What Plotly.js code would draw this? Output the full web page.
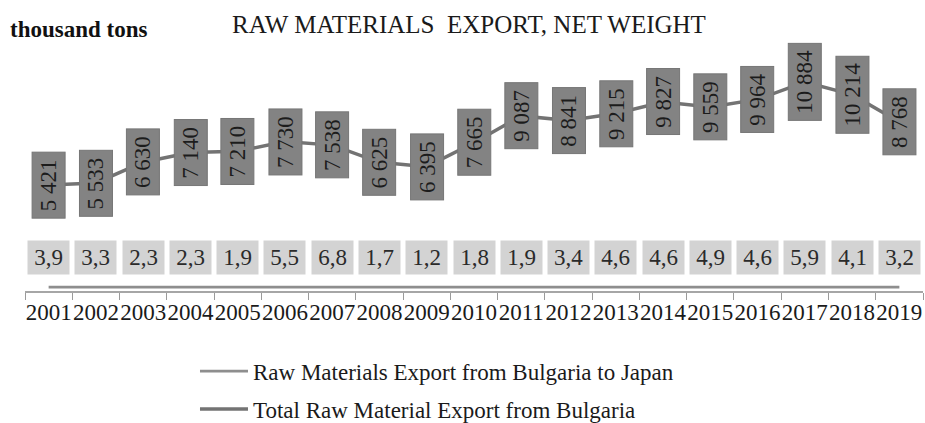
<!DOCTYPE html>
<html>
<head>
<meta charset="utf-8">
<script src="https://cdn.plot.ly/plotly-3.0.1.min.js"></script>
<style>
  html, body { margin: 0; padding: 0; background: #ffffff; }
  #chart { width: 925px; height: 423px; }
</style>
</head>
<body>
<div id="chart"></div>
<script>
// Years on the category axis
const years = ['2001','2002','2003','2004','2005','2006','2007','2008','2009','2010',
               '2011','2012','2013','2014','2015','2016','2017','2018','2019'];

// Total raw material export from Bulgaria, thousand tons
const totalExport = [5421, 5533, 6630, 7140, 7210, 7730, 7538, 6625, 6395, 7665,
                     9087, 8841, 9215, 9827, 9559, 9964, 10884, 10214, 8768];

// Raw materials export from Bulgaria to Japan, thousand tons
const japanExport = [3.9, 3.3, 2.3, 2.3, 1.9, 5.5, 6.8, 1.7, 1.2, 1.8,
                     1.9, 3.4, 4.6, 4.6, 4.9, 4.6, 5.9, 4.1, 3.2];

const serif = '"Liberation Serif", "Times New Roman", serif';

function fmtThousands(v) {
  return String(v).replace(/\B(?=(\d{3})+(?!\d))/g, ' ');
}
function fmtDecimal(v) {
  return v.toFixed(1).replace('.', ',');
}

const traces = [
  {
    type: 'scatter', mode: 'lines',
    name: 'Raw Materials Export from Bulgaria to Japan',
    x: years, y: japanExport,
    line: { color: '#8e8e8e', width: 2.8 },
    legendgroup: 'japan',
    hoverinfo: 'skip'
  },
  {
    type: 'scatter', mode: 'lines',
    name: 'Total Raw Material Export from Bulgaria',
    x: years, y: totalExport,
    line: { color: '#737373', width: 3.5 },
    legendgroup: 'total',
    hoverinfo: 'skip'
  }
];

const annotations = [];

// Rotated value boxes on the total series (x given as category index,
// since the year strings look numeric)
years.forEach((yr, i) => {
  const txt = fmtThousands(totalExport[i]);
  annotations.push({
    x: i, y: totalExport[i], xref: 'x', yref: 'y',
    text: txt, showarrow: false, textangle: -90,
    font: { family: serif, size: 23, color: '#1c1c1c' },
    bgcolor: '#838383', bordercolor: '#767676', borderwidth: 1, borderpad: 3,
    width: 11.7 * txt.length, height: 26
  });
});

// Value boxes above the Japan series
years.forEach((yr, i) => {
  annotations.push({
    x: i, y: japanExport[i], xref: 'x', yref: 'y',
    text: fmtDecimal(japanExport[i]), showarrow: false, yshift: 30,
    font: { family: serif, size: 23, color: '#2a2a2a' },
    bgcolor: '#d3d3d3', borderpad: 3,
    width: 35, height: 27
  });
});

// Unit label
annotations.push({
  xref: 'paper', yref: 'paper', x: -0.019, y: 1.135,
  xanchor: 'left', yanchor: 'middle', showarrow: false,
  text: '<b>thousand tons</b>',
  font: { family: serif, size: 23, color: '#111111' }
});

const layout = {
  width: 925, height: 423,
  margin: { l: 25, r: 2, t: 61, b: 132, autoexpand: false },
  paper_bgcolor: '#ffffff', plot_bgcolor: '#ffffff',
  font: { family: serif, size: 23, color: '#222222' },
  title: {
    text: 'RAW MATERIALS\u00a0 EXPORT, NET WEIGHT',
    x: 0.507, xanchor: 'center', xref: 'container',
    y: 0.943, yanchor: 'middle', yref: 'container',
    font: { family: serif, size: 25, color: '#1a1a1a' }
  },
  xaxis: {
    type: 'category',
    categoryorder: 'array', categoryarray: years,
    range: [-0.5, years.length - 0.5],
    tickmode: 'linear', tick0: 0, dtick: 1,
    tickangle: 0, tickson: 'boundaries',
    ticks: 'outside', ticklen: 7, tickwidth: 1, tickcolor: '#9a9a9a',
    showline: true, linecolor: '#a6a6a6', linewidth: 1.5,
    showgrid: false, zeroline: false,
    tickfont: { family: serif, size: 23, color: '#1a1a1a' },
    fixedrange: true
  },
  yaxis: {
    range: [-200, 12000],
    showticklabels: false, showgrid: false, zeroline: false, showline: false,
    ticks: '', fixedrange: true
  },
  showlegend: true,
  legend: {
    orientation: 'v',
    x: 0.1893, xanchor: 'left',
    y: -0.255, yanchor: 'top',
    itemwidth: 48,
    tracegroupgap: 5,
    bgcolor: 'rgba(0,0,0,0)',
    font: { family: serif, size: 23, color: '#1a1a1a' }
  },
  annotations: annotations,
  hovermode: false
};

Plotly.newPlot('chart', traces, layout, { displayModeBar: false, staticPlot: true });
</script>
</body>
</html>
